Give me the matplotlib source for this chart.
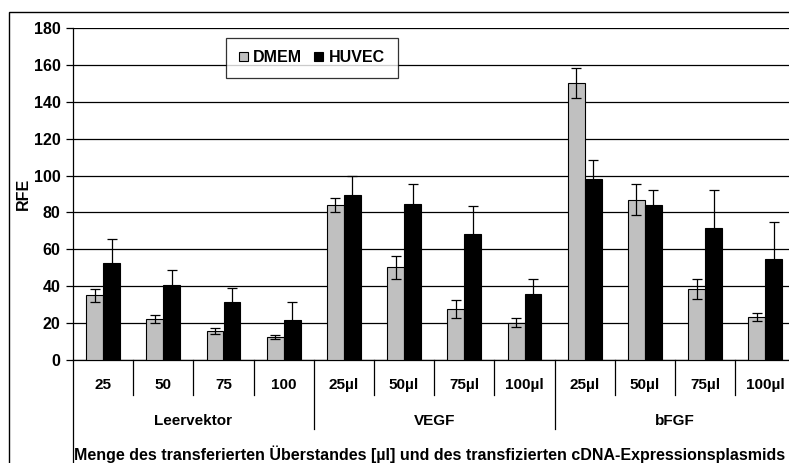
import matplotlib.pyplot as plt
import numpy as np
from matplotlib.patches import Rectangle
from matplotlib.transforms import blended_transform_factory

plt.rcParams["font.family"] = ["Liberation Sans", "DejaVu Sans"]
plt.rcParams["font.weight"] = "bold"

# data
groups = ["Leervektor", "VEGF", "bFGF"]
amounts = ["25", "50", "75", "100",
           "25µl", "50µl", "75µl", "100µl",
           "25µl", "50µl", "75µl", "100µl"]
dmem = [35, 22.4, 15.7, 12.6, 83.8, 50.2, 27.8, 20.2, 150.2, 87, 38.3, 23.5]
dmem_err = [3.3, 2.2, 1.8, 1.0, 3.8, 6.3, 4.9, 2.4, 8.2, 8.2, 5.4, 2.1]
huvec = [52.4, 40.4, 31.6, 21.7, 89.4, 84.5, 68.3, 35.9, 98.4, 84, 71.3, 54.9]
huvec_err = [13, 8.2, 7.2, 9.9, 10.6, 10.7, 15, 8.1, 10.3, 7.9, 20.6, 19.7]
xtitle = "Menge des transferierten Überstandes [µl] und des transfizierten cDNA-Expressionsplasmids"

fig = plt.figure(figsize=(7.89, 4.63), dpi=100)
ax = fig.add_axes([73 / 789, 1 - 360 / 463, 722.4 / 789, 332 / 463])

x = np.arange(len(amounts))
w = 0.28
ekw = dict(ecolor="black", elinewidth=0.9, capsize=3.5, capthick=0.9)
ax.bar(x - w / 2, dmem, w, color="#c0c0c0", edgecolor="black", linewidth=0.8,
       yerr=dmem_err, error_kw=ekw, label="DMEM", zorder=3)
ax.bar(x + w / 2, huvec, w, color="black", edgecolor="black", linewidth=0.8,
       yerr=huvec_err, error_kw=ekw, label="HUVEC", zorder=3)

ax.set_xlim(-0.5, len(amounts) - 0.5)
ax.set_ylim(0, 180)
ax.set_yticks(range(0, 181, 20))
ax.yaxis.grid(True, color="black", linewidth=0.9)
ax.set_axisbelow(True)
ax.tick_params(axis="y", labelsize=11.5, length=5, width=0.9, pad=4)
ax.set_ylabel("RFE", fontsize=11.5, fontweight="bold")
ax.yaxis.set_label_coords(-42 / 722, 0.5)
for s in ["top", "right"]:
    ax.spines[s].set_visible(False)
ax.spines["left"].set_linewidth(0.9)
ax.spines["bottom"].set_linewidth(0.9)

# category table below the axis
ax.set_xticks(x)
ax.set_xticklabels(amounts, fontsize=11, fontweight="bold")
ax.tick_params(axis="x", length=0, pad=13)
tr = blended_transform_factory(ax.transData, ax.transAxes)
for i in range(1, len(amounts)):
    bottom = -0.208 if i % 4 == 0 else -0.105
    ax.plot([i - 0.5, i - 0.5], [0, bottom], color="black", linewidth=0.9,
            transform=tr, clip_on=False)
ax.plot([-0.5, -0.5], [0, -0.35], color="black", linewidth=0.9,
        transform=tr, clip_on=False)
for g, name in enumerate(groups):
    ax.text(g * 4 + 1.5, -0.183, name, transform=tr, ha="center", va="center",
            fontsize=11, fontweight="bold")
ax.text(-0.48, -0.283, xtitle, transform=tr, ha="left", va="center",
        fontsize=11.5, fontweight="bold")

leg = ax.legend(loc="upper left", bbox_to_anchor=(226 / 789, 1 - 37.5 / 463),
                bbox_transform=fig.transFigure, ncol=2, fontsize=11.5,
                frameon=True, fancybox=False, edgecolor="black",
                handlelength=0.55, handleheight=0.55, handletextpad=0.35,
                columnspacing=0.75, borderpad=0.8, borderaxespad=0)
leg.get_frame().set_linewidth(0.9)
for t in leg.get_texts():
    t.set_fontweight("bold")

# outer chart frame
fig.add_artist(Rectangle((9 / 789, -0.2), 1.2, 1.2 - 12 / 463, fill=False,
                         edgecolor="black", linewidth=1.0,
                         transform=fig.transFigure))

fig.savefig("out.png", dpi=100)
